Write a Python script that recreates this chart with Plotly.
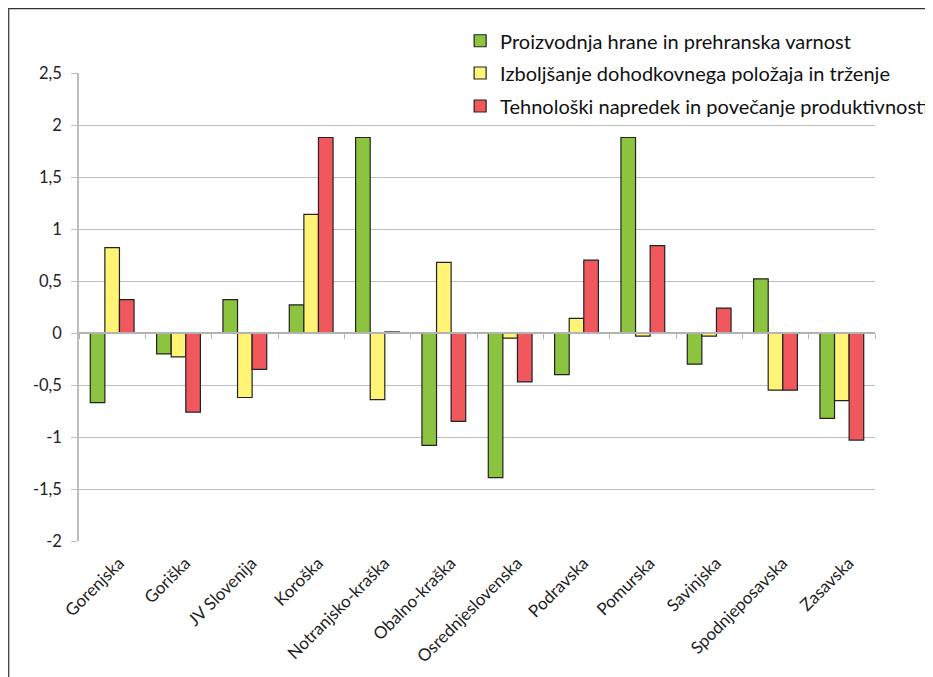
import plotly.graph_objects as go

regions = ["Gorenjska", "Goriška", "JV Slovenija", "Koroška", "Notranjsko-kraška",
           "Obalno-kraška", "Osrednjeslovenska", "Podravska", "Pomurska", "Savinjska",
           "Spodnjeposavska", "Zasavska"]
hrana = [-0.67, -0.20, 0.32, 0.27, 1.88, -1.08, -1.39, -0.40, 1.88, -0.30, 0.52, -0.82]
dohodek = [0.82, -0.23, -0.62, 1.14, -0.64, 0.68, -0.05, 0.14, -0.03, -0.03, -0.55, -0.65]
tehnologija = [0.32, -0.76, -0.35, 1.88, 0.01, -0.85, -0.47, 0.70, 0.84, 0.24, -0.55, -1.03]

series_names = ["Proizvodnja hrane in prehranska varnost",
                "Izboljšanje dohodkovnega položaja in trženje",
                "Tehnološki napredek in povečanje produktivnosti"]
colors = ["#8CC43F", "#FFF475", "#F0585E"]
y_ticks = [2.5, 2, 1.5, 1, 0.5, 0, -0.5, -1, -1.5, -2]
y_tick_text = ["2,5", "2", "1,5", "1", "0,5", "0", "-0,5", "-1", "-1,5", "-2"]

FONT = "Lato, Open Sans, sans-serif"
legend_ids = ["legend", "legend2", "legend3"]
legend_y = [1.0689, 1.0000, 0.9295]

fig = go.Figure()
for name, vals, col, lid in zip(series_names, [hrana, dohodek, tehnologija], colors, legend_ids):
    fig.add_trace(go.Bar(x=regions, y=vals, name=name, marker_color=col,
                         marker_line_color="#222222", marker_line_width=1.2,
                         legend=lid))

# invisible trace for the zero-line tick axis
fig.add_trace(go.Scatter(x=regions, y=[0] * len(regions), xaxis="x2", yaxis="y",
                         mode="markers", marker_opacity=0, showlegend=False,
                         hoverinfo="skip"))

legend_common = dict(x=0.4788, xanchor="left", yanchor="middle",
                     font=dict(size=20, family=FONT, color="#111111"),
                     itemwidth=30, bgcolor="rgba(0,0,0,0)")

fig.update_layout(
    width=933, height=677,
    margin=dict(l=71, r=66, t=65, b=144, autoexpand=False),
    paper_bgcolor="white", plot_bgcolor="white",
    barmode="group", bargap=0.34, bargroupgap=0,
    font=dict(family=FONT, size=17, color="#222222"),
    legend=dict(y=legend_y[0], **legend_common),
    legend2=dict(y=legend_y[1], **legend_common),
    legend3=dict(y=legend_y[2], **legend_common),
    xaxis=dict(type="category", categoryarray=regions, tickangle=-45,
               showgrid=False, showline=False, ticks="", zeroline=False,
               automargin=False, ticklabelstandoff=8, ticklabelshift=7,
               tickfont=dict(size=17, family=FONT), range=[-0.5, 11.5]),
    xaxis2=dict(type="category", categoryarray=regions, overlaying="x",
                anchor="free", position=2 / 4.5, side="bottom",
                showline=True, linecolor="#b3b3b3", linewidth=1.5,
                ticks="outside", ticklen=5, tickcolor="#b3b3b3",
                tickson="boundaries", showticklabels=False, showgrid=False,
                range=[-0.5, 11.5], matches="x"),
    yaxis=dict(range=[-2, 2.5], tickvals=y_ticks, ticktext=y_tick_text,
               showgrid=True, gridcolor="#bdbdbd", gridwidth=1,
               showline=True, linecolor="#bdbdbd", linewidth=1.5,
               ticks="outside", ticklen=6, tickcolor="#bdbdbd",
               zeroline=False, automargin=False, ticklabelstandoff=6,
               tickfont=dict(size=16.5, family=FONT)),
    shapes=[dict(type="path", xref="paper", yref="paper",
                 path="M -0.0883,-0.40 L -0.0883,1.1374 L 1.2,1.1374",
                 line=dict(color="#333333", width=1.2))],
)

fig.write_html("out.html")
